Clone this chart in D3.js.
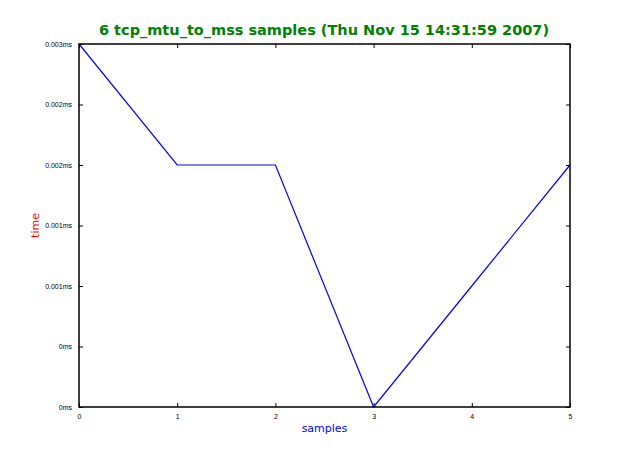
<!DOCTYPE html>
<html><head><meta charset="utf-8">
<script src="https://cdn.jsdelivr.net/npm/d3@7/dist/d3.min.js"></script>
<style>body{margin:0;background:#fff}</style>
</head><body>
<script>
const samples = [0, 1, 2, 3, 4, 5];
const times = [0.003, 0.002, 0.002, 0, 0.001, 0.002];
const yTicks = [0, 0.0005, 0.001, 0.0015, 0.002, 0.0025, 0.003];
const yTickLabels = ["0ms", "0ms", "0.001ms", "0.001ms", "0.002ms", "0.002ms", "0.003ms"];
const xTicks = [0, 1, 2, 3, 4, 5];

const W = 633, H = 453;
const m = {l: 79, r: 63, t: 44, b: 46};
const svg = d3.select("body").append("svg").attr("width", W).attr("height", H)
  .style("font-family", "DejaVu Sans, sans-serif");
svg.append("rect").attr("width", W).attr("height", H).attr("fill", "#fff");

const x = d3.scaleLinear().domain([0, 5]).range([m.l, W - m.r]);
const y = d3.scaleLinear().domain([0, 0.003]).range([H - m.b, m.t]);

const tl = 4;
svg.append("g").attr("transform", `translate(0,${H - m.b})`)
  .call(d3.axisBottom(x).tickValues(xTicks).tickSize(-tl).tickPadding(7).tickFormat(d3.format("d")))
  .call(g => { g.select(".domain").remove(); g.selectAll("text").attr("font-size", 7).attr("fill", "#000"); g.selectAll("line").attr("stroke", "#000"); });
svg.append("g").attr("transform", `translate(0,${m.t})`)
  .call(d3.axisTop(x).tickValues(xTicks).tickSize(-tl).tickFormat(""))
  .call(g => { g.select(".domain").remove(); g.selectAll("line").attr("stroke", "#000"); });
svg.append("g").attr("transform", `translate(${m.l},0)`)
  .call(d3.axisLeft(y).tickValues(yTicks).tickSize(-tl).tickPadding(7).tickFormat((d, i) => yTickLabels[i]))
  .call(g => { g.select(".domain").remove(); g.selectAll("text").attr("font-size", 7).attr("fill", "#000"); g.selectAll("line").attr("stroke", "#000"); });
svg.append("g").attr("transform", `translate(${W - m.r},0)`)
  .call(d3.axisRight(y).tickValues(yTicks).tickSize(-tl).tickFormat(""))
  .call(g => { g.select(".domain").remove(); g.selectAll("line").attr("stroke", "#000"); });

const line = d3.line().x((d, i) => x(samples[i])).y(d => y(d));
svg.append("path").datum(times).attr("d", line).attr("fill", "none").attr("stroke", "#0000ff").attr("stroke-width", 1.2);

svg.append("rect").attr("x", m.l).attr("y", m.t).attr("width", W - m.r - m.l).attr("height", H - m.b - m.t)
  .attr("fill", "none").attr("stroke", "#000").attr("stroke-width", 1.5);

svg.append("text").attr("x", 324).attr("y", 35).attr("text-anchor", "middle")
  .attr("font-size", 14.5).attr("font-weight", "bold").attr("fill", "#008000")
  .text("6 tcp_mtu_to_mss samples (Thu Nov 15 14:31:59 2007)");
svg.append("text").attr("x", (m.l + W - m.r) / 2).attr("y", 432).attr("text-anchor", "middle")
  .attr("font-size", 11).attr("fill", "#0000ff").text("samples");
svg.append("text").attr("transform", `translate(39,${(m.t + H - m.b) / 2}) rotate(-90)`).attr("text-anchor", "middle")
  .attr("font-size", 11).attr("fill", "#ff0000").text("time");
</script>
</body></html>
